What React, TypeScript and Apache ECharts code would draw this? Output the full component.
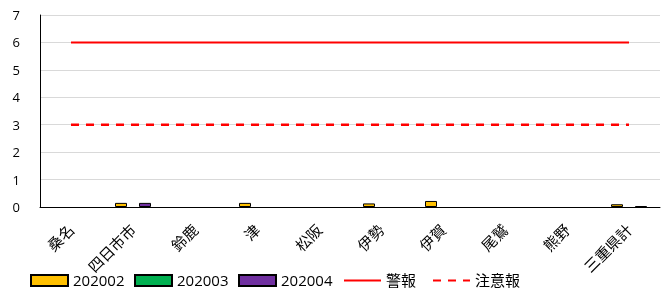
import React, { useEffect, useRef } from "react";
import * as echarts from "echarts";

const categories = ["桑名", "四日市市", "鈴鹿", "津", "松阪", "伊勢", "伊賀", "尾鷲", "熊野", "三重県計"];
const s202002 = [null, 0.15, null, 0.15, null, 0.13, 0.22, null, null, 0.1];
const s202003 = [null, null, null, null, null, null, null, null, null, null];
const s202004 = [null, 0.15, null, null, null, null, null, null, null, 0.03];
const warning = [6, 6, 6, 6, 6, 6, 6, 6, 6, 6];
const advisory = [3, 3, 3, 3, 3, 3, 3, 3, 3, 3];
const yTicks = { min: 0, max: 7, interval: 1 };
const legendNames = ["202002", "202003", "202004", "警報", "注意報"];
const legendLefts = [25, 129, 233, 338, 427];

const FONT = "'Open Sans', 'Noto Sans CJK JP', sans-serif";

export default function App() {
  const ref = useRef<HTMLDivElement>(null);
  useEffect(() => {
    if (!ref.current) return;
    const chart = echarts.init(ref.current, undefined, { renderer: "svg" });
    const barStyle = (color: string) => ({ color, borderColor: "#000", borderWidth: 1 });
    chart.setOption({
      animation: false,
      textStyle: { fontFamily: FONT },
      grid: { left: 40, right: 1, top: 15, bottom: 86, containLabel: false },
      legend: legendNames.map((name, i) => ({
        bottom: 0,
        left: legendLefts[i],
        itemWidth: 37,
        itemHeight: 11,
        itemGap: 0,
        textStyle: { fontSize: 15, color: "#000", fontFamily: FONT },
        data: [i >= 3 ? { name, itemStyle: { opacity: 0 } } : { name, icon: "rect" }],
      })),
      xAxis: {
        type: "category",
        data: categories,
        axisLine: { lineStyle: { color: "#000", width: 1 } },
        axisTick: { show: false },
        axisLabel: { rotate: 45, fontSize: 15, color: "#000", margin: 20, interval: 0, fontFamily: FONT },
      },
      yAxis: {
        type: "value",
        min: yTicks.min,
        max: yTicks.max,
        interval: yTicks.interval,
        axisLine: { show: true, lineStyle: { color: "#000", width: 1 } },
        axisTick: { show: false },
        axisLabel: { fontSize: 13, color: "#000", margin: 20, fontFamily: FONT },
        splitLine: { lineStyle: { color: "#d9d9d9", width: 1 } },
      },
      series: [
        { name: "202002", type: "bar", data: s202002, barWidth: 12, barGap: "0%", itemStyle: barStyle("#ffc000") },
        { name: "202003", type: "bar", data: s202003, barWidth: 12, barGap: "0%", itemStyle: barStyle("#00b050") },
        { name: "202004", type: "bar", data: s202004, barWidth: 12, barGap: "0%", itemStyle: barStyle("#7030a0") },
        {
          name: "警報",
          type: "line",
          data: warning,
          symbol: "none",
          lineStyle: { color: "#ff0000", width: 2, type: "solid" },
          itemStyle: { color: "#ff0000" },
        },
        {
          name: "注意報",
          type: "line",
          data: advisory,
          symbol: "none",
          lineStyle: { color: "#ff0000", width: 2.5, type: [8, 7] },
          itemStyle: { color: "#ff0000" },
        },
      ],
    });
    return () => chart.dispose();
  }, []);
  return <div ref={ref} style={{ position: "fixed", left: 0, top: 0, width: 661, height: 293 }} />;
}
